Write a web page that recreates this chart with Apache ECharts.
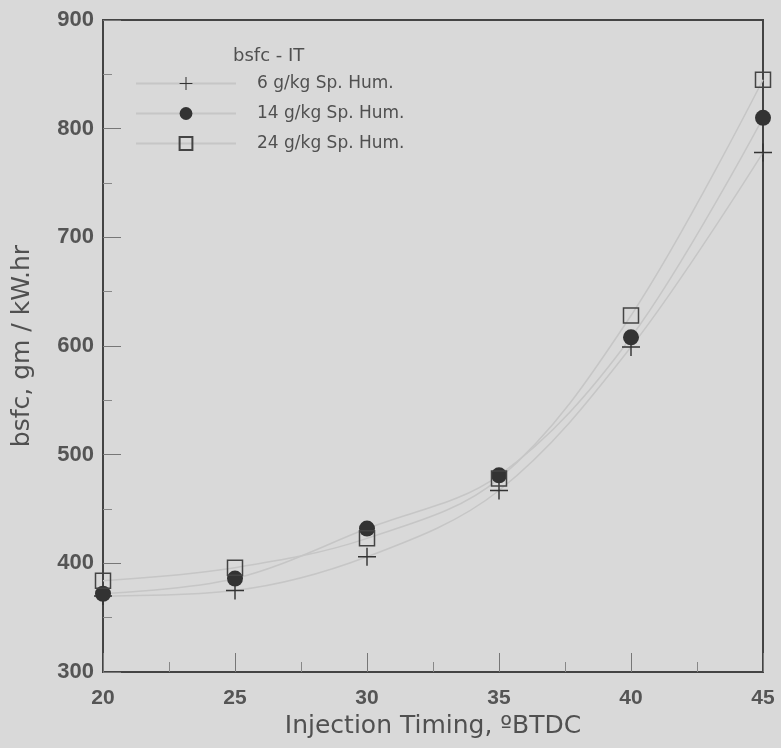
<!DOCTYPE html>
<html>
<head>
<meta charset="utf-8">
<script src="https://cdn.jsdelivr.net/npm/echarts@6/dist/echarts.min.js"></script>
<style>
  html, body { margin: 0; padding: 0; background: #d9d9d9; }
  #chart { width: 781px; height: 748px; }
</style>
</head>
<body>
<div id="chart"></div>
<script>
// injection timing, deg BTDC
var timing = [20, 25, 30, 35, 40, 45];
// bsfc, gm / kW.hr
var hum6 = [370, 375, 406, 467, 599, 778];
var hum14 = [372, 386, 432, 481, 608, 810];
var hum24 = [384, 396, 423, 478, 628, 845];
var seriesNames = ['6 g/kg Sp. Hum.', '14 g/kg Sp. Hum.', '24 g/kg Sp. Hum.'];

var plusPath = 'path://M4.6,0H5.4V4.6H10V5.4H5.4V10H4.6V5.4H0V4.6H4.6Z';
var textColor = '#505050';
var font = 'Liberation Sans, Arial, sans-serif';
var wideFont = 'DejaVu Sans, sans-serif';

function pairs(ys) {
  return timing.map(function (x, i) { return [x, ys[i]]; });
}

function makeSeries(name, ys, symbol, size, itemStyle) {
  return {
    name: name,
    type: 'line',
    data: pairs(ys),
    smooth: 0.35,
    symbol: symbol,
    symbolSize: size,
    showAllSymbol: true,
    lineStyle: { color: '#c6c6c6', width: 1.5 },
    itemStyle: itemStyle,
    emphasis: { disabled: true },
    z: 3
  };
}

var chart = echarts.init(document.getElementById('chart'));
chart.setOption({
  animation: false,
  backgroundColor: '#d9d9d9',
  title: {
    text: 'bsfc - IT',
    left: 233,
    top: 47,
    padding: 0,
    textStyle: { fontFamily: wideFont, fontSize: 18, fontWeight: 'normal', color: textColor }
  },
  legend: {
    orient: 'vertical',
    left: 135,
    top: 75,
    padding: 0,
    itemWidth: 100,
    itemHeight: 16,
    itemGap: 13,
    data: seriesNames,
    textStyle: { fontFamily: wideFont, fontSize: 17, color: textColor, padding: [0, 0, 0, 16] }
  },
  grid: {
    left: 103,
    right: 18,
    top: 20,
    bottom: 76,
    show: true,
    borderColor: '#444',
    borderWidth: 2,
    backgroundColor: 'transparent'
  },
  xAxis: {
    type: 'value',
    min: 20,
    max: 45,
    interval: 5,
    name: 'Injection Timing, ºBTDC',
    nameLocation: 'middle',
    nameGap: 42,
    nameTextStyle: { fontFamily: wideFont, fontSize: 25, color: textColor },
    axisLine: { lineStyle: { color: '#444', width: 2 } },
    axisTick: { inside: true, length: 19, lineStyle: { color: '#777', width: 1 } },
    minorTick: { show: true, splitNumber: 2, length: 10, lineStyle: { color: '#888' } },
    axisLabel: { fontFamily: font, fontSize: 21, fontWeight: 'bold', color: '#555', margin: 16 },
    splitLine: { show: false }
  },
  yAxis: {
    type: 'value',
    min: 300,
    max: 900,
    interval: 100,
    name: 'bsfc, gm / kW.hr',
    nameLocation: 'middle',
    nameGap: 68,
    nameTextStyle: { fontFamily: wideFont, fontSize: 25, color: textColor },
    axisLine: { lineStyle: { color: '#444', width: 2 } },
    axisTick: { inside: true, length: 18, lineStyle: { color: '#777', width: 1 } },
    minorTick: { show: true, splitNumber: 2, length: 9, lineStyle: { color: '#888' } },
    axisLabel: { fontFamily: font, fontSize: 22, fontWeight: 'bold', color: '#555', margin: 9 },
    splitLine: { show: false }
  },
  series: [
    makeSeries(seriesNames[0], hum6, plusPath, 18, { color: '#333' }),
    makeSeries(seriesNames[1], hum14, 'circle', 16, { color: '#333' }),
    makeSeries(seriesNames[2], hum24, 'rect', 15, {
      color: 'rgba(0,0,0,0)', borderColor: '#444', borderWidth: 1.5
    })
  ]
});
</script>
</body>
</html>
